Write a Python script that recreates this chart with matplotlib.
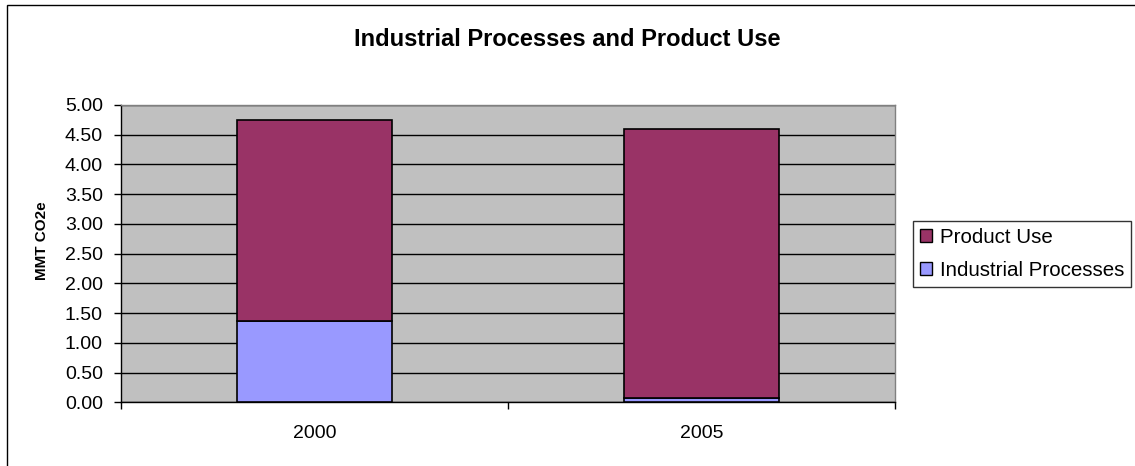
import matplotlib
matplotlib.use("Agg")
import matplotlib.pyplot as plt
from matplotlib.patches import Rectangle

plt.rcParams["font.family"] = ["Liberation Sans", "DejaVu Sans"]

# Emissions data (MMT CO2e)
years = ["2000", "2005"]
industrial_processes = [1.37, 0.07]
product_use = [3.38, 4.52]
y_ticks = [0.0, 0.5, 1.0, 1.5, 2.0, 2.5, 3.0, 3.5, 4.0, 4.5, 5.0]

W, H = 1135, 466
fig = plt.figure(figsize=(W / 100, H / 100), dpi=100)
fig.patch.set_facecolor("white")

# outer chart border (left and top edges visible)
fig.add_artist(Rectangle((7 / W, -0.5), 2.0, 1.5 - 5 / H,
                         transform=fig.transFigure, fill=False,
                         edgecolor="black", linewidth=1.0))

left, right = 121 / W, 895 / W
bottom, top = 1 - 402.3 / H, 1 - 105 / H
ax = fig.add_axes([left, bottom, right - left, top - bottom])
ax.set_facecolor("#C0C0C0")

x = list(range(len(years)))
ax.bar(x, industrial_processes, width=0.40, color="#9999FF",
       edgecolor="black", linewidth=1.2, label="Industrial Processes", zorder=3)
ax.bar(x, product_use, width=0.40, bottom=industrial_processes, color="#993366",
       edgecolor="black", linewidth=1.2, label="Product Use", zorder=3)

ax.set_xlim(-0.5, len(years) - 0.5)
ax.set_ylim(0, 5.0)
ax.set_yticks(y_ticks)
ax.set_yticklabels([f"{v:.2f}" for v in y_ticks], fontsize=14)
ax.yaxis.grid(True, color="black", linewidth=1.0, zorder=1)
ax.set_axisbelow(True)

# category boundaries as major ticks, labels centred on minor ticks
ax.set_xticks([i - 0.5 for i in range(len(years) + 1)])
ax.set_xticklabels([])
ax.set_xticks(x, minor=True)
ax.set_xticklabels(years, minor=True, fontsize=14)
ax.tick_params(axis="x", which="major", direction="out", length=5, width=1)
ax.tick_params(axis="x", which="minor", length=0, pad=16)
ax.tick_params(axis="y", direction="out", length=5, width=1, pad=8)

for side in ("left", "bottom"):
    ax.spines[side].set_color("black")
    ax.spines[side].set_linewidth(1.0)
for side in ("top", "right"):
    ax.spines[side].set_color("#808080")
    ax.spines[side].set_linewidth(1.0)

fig.text(42 / W, 1 - 241 / H, "MMT CO2e", rotation=90, ha="center", va="center",
         fontsize=11, fontweight="bold")
fig.text(567 / W, 1 - 39 / H, "Industrial Processes and Product Use",
         ha="center", va="center", fontsize=17, fontweight="bold")

handles, labels = ax.get_legend_handles_labels()
leg = fig.legend(handles[::-1], labels[::-1], loc="upper left",
                 bbox_to_anchor=(913 / W, 1 - 221 / H), fontsize=14.8,
                 frameon=True, fancybox=False, edgecolor="black",
                 handlelength=0.6, handleheight=0.6, handletextpad=0.36,
                 borderpad=0.33, labelspacing=0.7, borderaxespad=0)
leg.get_frame().set_linewidth(1.0)
for h in leg.legend_handles:
    h.set_edgecolor("black")
    h.set_linewidth(1.0)

fig.savefig("out.png", dpi=100, facecolor="white")
